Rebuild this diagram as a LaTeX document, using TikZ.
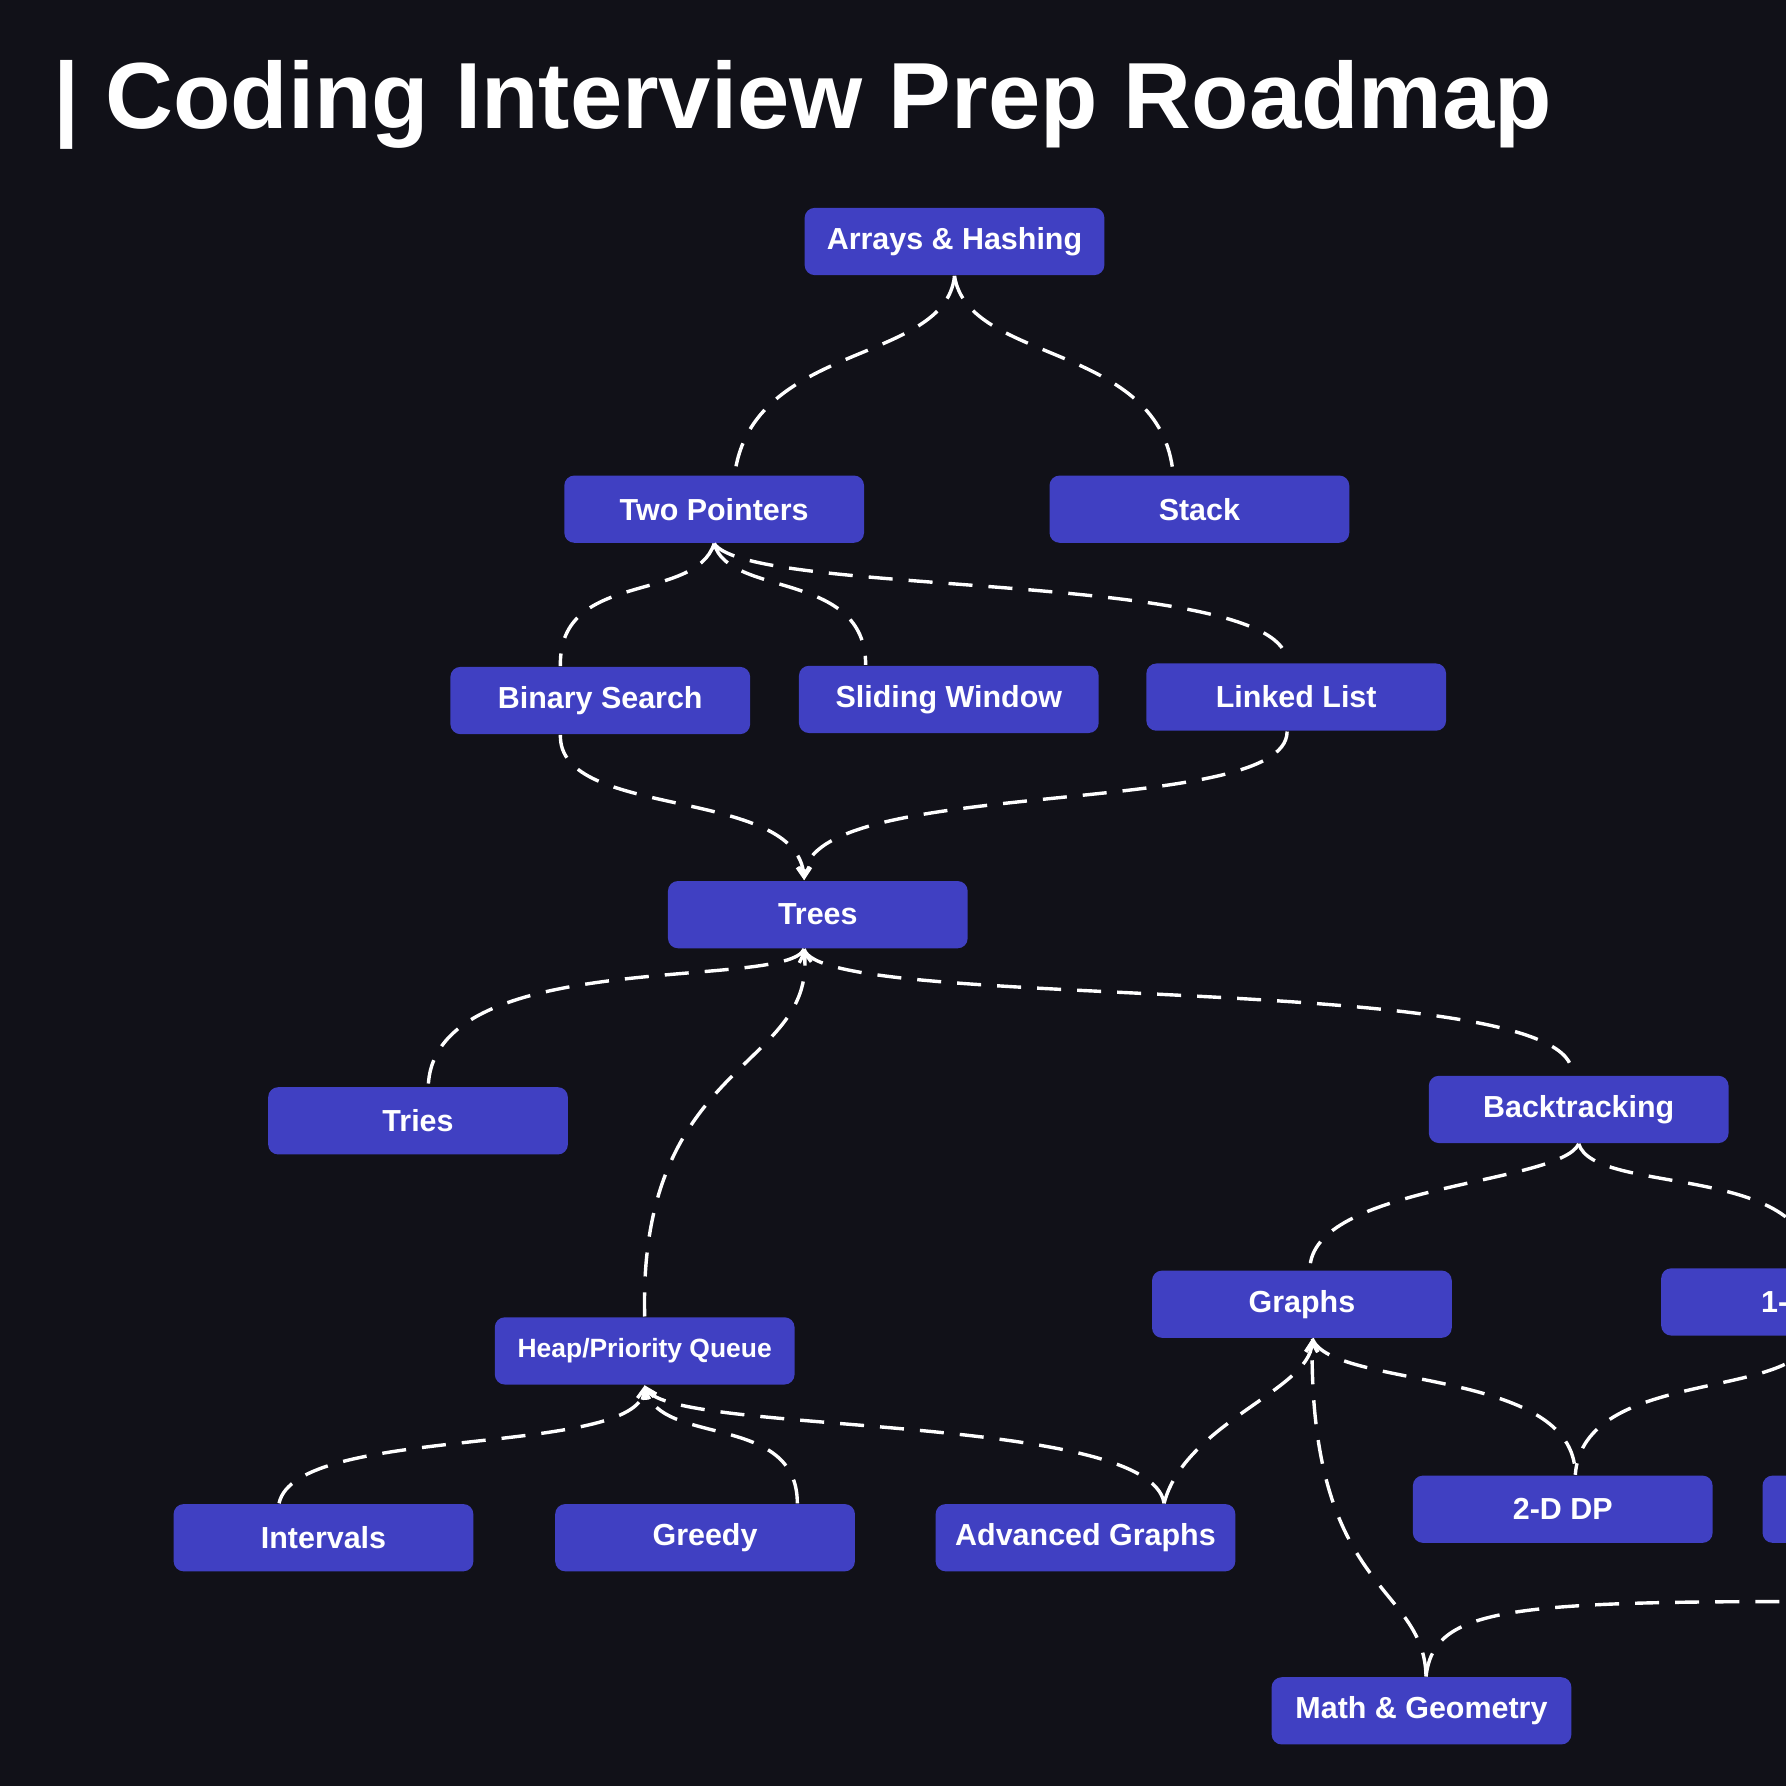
\documentclass[tikz,border=0pt]{standalone}
\usepackage{fontspec}
\setmainfont{Liberation Sans}
\usetikzlibrary{arrows.meta, positioning, calc}
\definecolor{bgdark}{HTML}{111118}
\definecolor{topicblue}{HTML}{4040C2}
\begin{document}
\begin{tikzpicture}[x=0.01cm, y=-0.01cm,
  topic/.style = {rectangle, rounded corners=2.5pt, fill=topicblue, minimum width=2.63cm, minimum height=0.59cm, text=white, font=\fontsize{7.6}{9}\selectfont\bfseries},
  link/.style = {white, line width=0.85pt, dash pattern=on 6pt off 4pt},
  tip/.style = {link, -{Straight Barb[length=2.5pt, width=3pt]}},
  every node/.style = {inner sep=0pt}
]

% Frame
\fill[bgdark] (0,0) rectangle (1568,1568);
\useasboundingbox (0,0) rectangle (1568,1568);
\clip (0,0) rectangle (1568,1568);

% Title
\node[anchor=west, text=white] (title) at (46,92) {\resizebox{13.15cm}{!}{\bfseries | Coding Interview Prep Roadmap}};

% Topics
\node[topic] (arrays) at (838,212) {Arrays \& Hashing};
\node[topic] (twoptr) at (627,447) {Two Pointers};
\node[topic] (stack) at (1053,447) {Stack};
\node[topic] (binsearch) at (527,615) {Binary Search};
\node[topic] (sliding) at (833,614) {Sliding Window};
\node[topic] (linked) at (1138,612) {Linked List};
\node[topic] (trees) at (718,803) {Trees};
\node[topic] (tries) at (367,984) {Tries};
\node[topic] (backtrack) at (1386,974) {Backtracking};
\node[topic] (heap) at (566,1186) {\fontsize{6.6}{8}\selectfont Heap/Priority Queue};
\node[topic] (graphs) at (1143,1145) {Graphs};
\node[topic] (onedp) at (1590,1143) {1-D DP};
\node[topic] (intervals) at (284,1350) {Intervals};
\node[topic] (greedy) at (619,1350) {Greedy};
\node[topic] (advgraphs) at (953,1350) {Advanced Graphs};
\node[topic] (twodp) at (1372,1325) {2-D DP};
\node[topic] (bitmanip) at (1679,1325) {Bit Manipulation};
\node[topic] (math) at (1248,1502) {Math \& Geometry};
\coordinate (offright) at (1800,1407);

% Arrays level
\draw[link] (arrays.south) .. controls (830,320) and (660,300) .. ($(twoptr.north)+(18,0)$);
\draw[link] (arrays.south) .. controls (850,320) and (1020,300) .. ($(stack.north)+(-23,0)$);

% Two Pointers level
\draw[link] (twoptr.south) .. controls (610,530) and (490,500) .. ($(binsearch.north)+(-35,0)$);
\draw[link] (twoptr.south) .. controls (640,525) and (760,500) .. ($(sliding.north)+(-73,0)$);
\draw[link] (twoptr.south) .. controls (660,525) and (1130,500) .. ($(linked.north)+(-8,0)$);

% Into Trees
\draw[tip] ($(binsearch.south)+(-35,0)$) .. controls (490,720) and (700,690) .. ($(trees.north)+(-12,0)$);
\draw[tip] ($(linked.south)+(-8,0)$) .. controls (1130,720) and (710,680) .. ($(trees.north)+(-12,0)$);

% Trees level
\draw[link] ($(trees.south)+(-12,0)$) .. controls (690,870) and (380,830) .. ($(tries.north)+(9,0)$);
\draw[link] ($(trees.south)+(-12,0)$) .. controls (720,890) and (1390,850) .. ($(backtrack.north)+(-6,0)$);
\draw[tip] (heap.north) .. controls (560,930) and (715,940) .. ($(trees.south)+(-12,0)$);

% Backtracking level
\draw[link] (backtrack.south) .. controls (1370,1040) and (1150,1040) .. ($(graphs.north)+(7,0)$);
\draw[link] (backtrack.south) .. controls (1400,1050) and (1590,1020) .. (onedp.north);

% Graphs level
\draw[link] ($(graphs.south)+(9,0)$) .. controls (1170,1220) and (1383,1200) .. ($(twodp.north)+(11,0)$);
\draw[link] (onedp.south) .. controls (1580,1230) and (1390,1200) .. ($(twodp.north)+(11,0)$);
\draw[tip] ($(advgraphs.north)+(69,0)$) .. controls (1040,1250) and (1150,1220) .. ($(graphs.south)+(9,0)$);
\draw[tip] ($(math.north)+(4,0)$) .. controls (1250,1390) and (1150,1400) .. ($(graphs.south)+(9,0)$);
\draw[link] ($(math.north)+(4,0)$) .. controls (1260,1400) and (1350,1405) .. (offright);

% Heap level
\draw[tip] ($(intervals.north)+(-39,0)$) .. controls (260,1250) and (560,1280) .. (heap.south);
\draw[tip] ($(greedy.north)+(81,0)$) .. controls (700,1240) and (580,1270) .. (heap.south);
\draw[tip] ($(advgraphs.north)+(69,0)$) .. controls (1010,1240) and (590,1260) .. (heap.south);

\end{tikzpicture}
\end{document}
